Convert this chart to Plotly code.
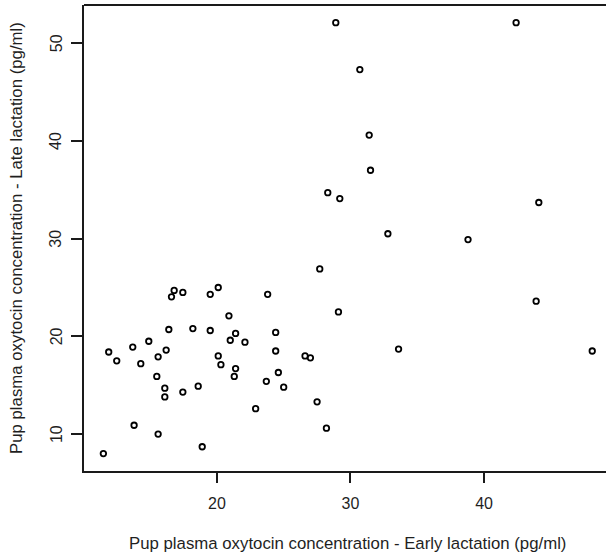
import plotly.graph_objects as go

# Data (early vs late lactation, pg/ml)
early = [11.5, 27.7, 16.8, 16.6, 17.45, 19.5, 20.1, 23.8, 29.1, 20.9,
         16.4, 18.2, 19.5, 21.4, 21.0, 22.1, 24.4, 24.4, 11.9, 12.5,
         13.7, 14.9, 14.3, 15.6, 16.2, 20.1, 20.3, 26.6, 27.0, 21.4,
         21.3, 24.6, 15.5, 16.1, 16.1, 17.45, 18.6, 23.7, 25.0, 22.9,
         27.5, 28.2, 13.8, 15.6, 18.9, 28.9, 28.3, 29.2, 42.4, 30.7,
         31.4, 31.5, 44.1, 32.8, 38.8, 33.6, 43.9, 48.1]
late = [8.0, 26.9, 24.7, 24.05, 24.5, 24.3, 25.0, 24.3, 22.5, 22.1,
        20.7, 20.8, 20.6, 20.3, 19.6, 19.4, 20.4, 18.5, 18.4, 17.5,
        18.9, 19.5, 17.2, 17.9, 18.6, 18.0, 17.1, 18.0, 17.8, 16.7,
        15.9, 16.3, 15.9, 14.7, 13.8, 14.3, 14.9, 15.4, 14.8, 12.6,
        13.3, 10.6, 10.9, 10.0, 8.7, 52.1, 34.7, 34.1, 52.1, 47.3,
        40.6, 37.0, 33.7, 30.5, 29.9, 18.7, 23.6, 18.5]

x_ticks = [20, 30, 40]
y_ticks = [10, 20, 30, 40, 50]
y_tick_labels = ["10", "20", "30", "40", "50"]
x_title = "Pup plasma oxytocin concentration - Early lactation (pg/ml)"
y_title = "Pup plasma oxytocin concentration - Late lactation (pg/ml)"

FONT = "Liberation Sans, Arial, sans-serif"
INK = "#1a1a1a"
TXT = "#1f1f1f"
TICK_SIZE = 16
TITLE_SIZE = 16.8

fig = go.Figure(go.Scatter(
    x=early, y=late, mode="markers",
    marker=dict(symbol="circle-open", size=5.5, color="black",
                line=dict(width=1.8, color="black")),
    hoverinfo="x+y", showlegend=False,
))

# rotated y tick labels (parallel to the axis, as in R)
y_label_annots = [
    dict(text=lab, xref="paper", yref="y", x=0, y=v,
         xanchor="center", yanchor="middle", xshift=-28,
         textangle=-90, showarrow=False,
         font=dict(size=TICK_SIZE, color=TXT))
    for v, lab in zip(y_ticks, y_tick_labels)
]

fig.update_layout(
    template="none",
    width=606, height=558, autosize=False,
    margin=dict(l=84, r=0, t=5, b=87, pad=0),
    paper_bgcolor="white", plot_bgcolor="white",
    font=dict(family=FONT, size=TICK_SIZE, color=TXT),
    xaxis=dict(range=[10.05, 49.13], tickvals=x_ticks, ticks="outside",
               ticklen=10, tickwidth=1.5, tickcolor=INK,
               ticklabelstandoff=7,
               showline=True, linewidth=1.6, linecolor=INK,
               showgrid=False, zeroline=False, automargin=False,
               tickfont=dict(size=TICK_SIZE, color=TXT)),
    yaxis=dict(range=[6.22, 53.91], tickvals=y_ticks, ticks="outside",
               ticklen=11, tickwidth=1.5, tickcolor=INK,
               showticklabels=False,
               showline=True, linewidth=1.6, linecolor=INK,
               showgrid=False, zeroline=False, automargin=False),
    shapes=[dict(type="line", xref="paper", yref="paper",
                 x0=0, x1=1, y0=1, y1=1,
                 line=dict(color=INK, width=1.8))],
    annotations=y_label_annots + [
        dict(text=x_title, xref="paper", yref="paper", x=0.5055, y=0,
             xanchor="center", yanchor="middle", yshift=-72,
             showarrow=False, font=dict(size=TITLE_SIZE, color=TXT)),
        dict(text=y_title, xref="paper", yref="paper", x=0, y=0.5,
             xanchor="center", yanchor="middle", xshift=-68,
             textangle=-90, showarrow=False,
             font=dict(size=TITLE_SIZE, color=TXT)),
    ],
)

fig.write_html("out.html",
               config={"displayModeBar": False},
               post_script="document.body.style.margin='0';"
                           "document.body.style.padding='0';")
